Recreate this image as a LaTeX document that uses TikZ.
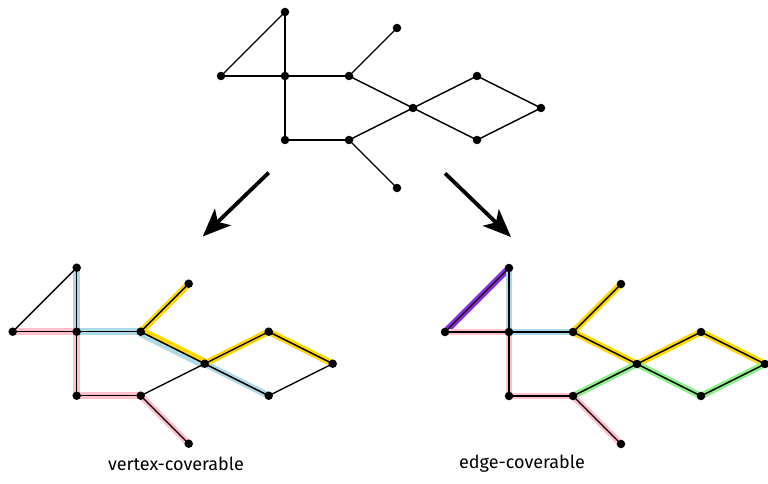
\documentclass[tikz,border=0pt]{standalone}
\usepackage{fontspec}
\setmainfont{Fira Sans}
\usetikzlibrary{arrows.meta}
\definecolor{hlpink}{HTML}{FFC0CB}
\definecolor{hlblue}{HTML}{ADD8E6}
\definecolor{hlgold}{HTML}{FFD700}
\definecolor{hlviolet}{HTML}{8A2BE2}
\definecolor{hlgreen}{HTML}{90EE90}
\pgfdeclarelayer{hl}
\pgfdeclarelayer{ed}
\pgfsetlayers{hl,ed,main}
\tikzset{
  dot/.style={circle,fill=black,inner sep=0pt,minimum size=8.5pt},
  gedge/.style={line width=1.4pt},
  hl/.style={line width=6.5pt},
  bigarrow/.style={line width=3.8pt,-{Stealth[length=28pt,width=23pt,inset=7pt]}},
  lbl/.style={font=\fontsize{18}{22}\selectfont}
}
\newcommand\mkgraph[1]{%
  \foreach \n/\px/\py in {A/0/1,B/-1/0,C/0/0,D/1/0,E/1.75/0.75,F/0/-1,G/1/-1,H/1.75/-1.75,I/2/-0.5,J/3/0,K/4/-0.5,L/3/-1}
    \node[dot] (#1\n) at (\px,\py) {};
  \begin{pgfonlayer}{ed}
  \foreach \a/\b in {A/B,A/C,B/C,C/D,D/E,D/I,C/F,F/G,G/H,G/I,I/J,J/K,K/L,L/I}
    \draw[gedge] (#1\a.center) -- (#1\b.center);
  \end{pgfonlayer}
}
\begin{document}
\begin{tikzpicture}[x=1pt,y=-1pt]
\useasboundingbox (0,0) rectangle (768,484);
% top graph
\begin{scope}[shift={(285pt,-76pt)},x=64pt,y=64pt]
\mkgraph{t}
\end{scope}
% left graph
\begin{scope}[shift={(76.7pt,-331.7pt)},x=64pt,y=64pt]
\mkgraph{l}
\end{scope}
% right graph
\begin{scope}[shift={(509pt,-332pt)},x=64pt,y=64pt]
\mkgraph{r}
\end{scope}
\begin{pgfonlayer}{hl}
% left highlights
\foreach \a/\b in {B/C,C/F,F/G,G/H}
  \draw[hl,hlpink] (l\a.center) -- (l\b.center);
\foreach \a/\b in {A/C,C/D,I/L}
  \draw[hl,hlblue] (l\a.center) -- (l\b.center);
\foreach \a/\b in {D/E,I/J,J/K}
  \draw[hl,hlgold] (l\a.center) -- (l\b.center);
\draw[line width=5.5pt,hlblue] ([shift={(-1pt,-2pt)}]lD.center) -- ([shift={(-1pt,-2pt)}]lI.center);
\draw[line width=5.5pt,hlgold] ([shift={(1pt,2pt)}]lD.center) -- ([shift={(1pt,2pt)}]lI.center);
% right highlights
\draw[hl,hlviolet] (rA.center) -- (rB.center);
\foreach \a/\b in {A/C,C/D}
  \draw[hl,hlblue] (r\a.center) -- (r\b.center);
\foreach \a/\b in {B/C,C/F,F/G,G/H}
  \draw[hl,hlpink] (r\a.center) -- (r\b.center);
\foreach \a/\b in {D/E,D/I,I/J,J/K}
  \draw[hl,hlgold] (r\a.center) -- (r\b.center);
\foreach \a/\b in {G/I,I/L,L/K}
  \draw[hl,hlgreen] (r\a.center) -- (r\b.center);
\end{pgfonlayer}
% arrows
\coordinate (la1) at (268.7,172.7);
\coordinate (la2) at (202.7,236.5);
\coordinate (ra1) at (445,173.3);
\coordinate (ra2) at (511,237);
\draw[bigarrow] (la1) -- (la2);
\draw[bigarrow] (ra1) -- (ra2);
% labels
\node[lbl] (vlab) at (176,464) {vertex-coverable};
\node[lbl] (elab) at (522,464) {edge-coverable};
\end{tikzpicture}
\end{document}
